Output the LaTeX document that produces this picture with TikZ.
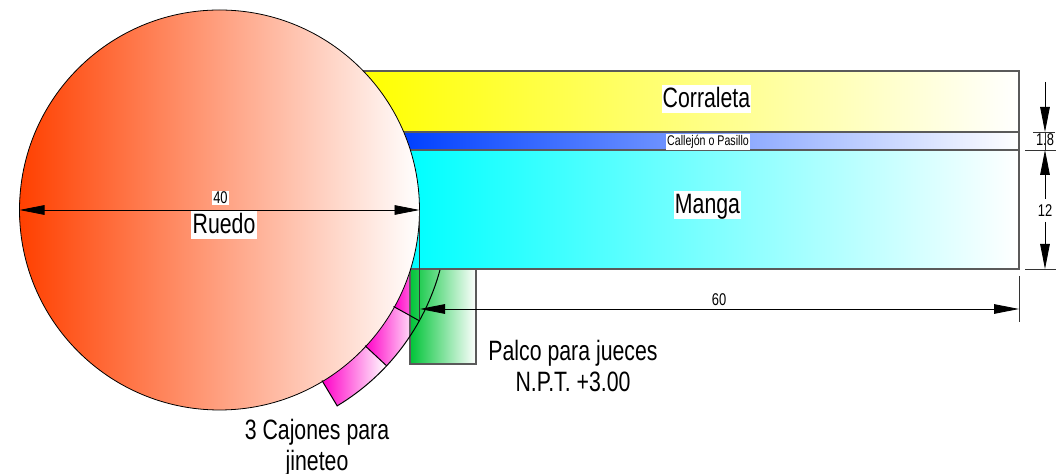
\documentclass[tikz,border=0pt]{standalone}
\usepackage{fontspec}
\setmainfont[FakeStretch=0.76]{Liberation Sans}
\usetikzlibrary{arrows.meta}
\usetikzlibrary{calc}
\definecolor{ruedocol}{RGB}{255,64,0}
\definecolor{corralcol}{RGB}{255,255,0}
\definecolor{pasillocol}{RGB}{0,64,255}
\definecolor{mangacol}{RGB}{0,255,255}
\definecolor{palcocol}{RGB}{0,196,56}
\definecolor{cajoncol}{RGB}{255,0,200}
\definecolor{bordecol}{RGB}{90,90,90}
\tikzset{
  borde/.style={draw=bordecol,line width=0.55pt},
  cota/.style={line width=0.4pt,draw=black!80},
  punta/.style={-{Triangle[length=12.5pt,width=4.8pt]},line width=0.4pt,draw=black},
  etiq/.style={fill=white,anchor=base,inner sep=0.6pt,text height=11pt,text depth=2pt,font=\fontsize{14}{15.5}\selectfont},
  etiqcota/.style={fill=white,anchor=base,inner sep=0.6pt,font=\fontsize{8.5}{10}\selectfont},
  rotulo/.style={align=center,font=\fontsize{14}{15.5}\selectfont}
}
\begin{document}
\begin{tikzpicture}[x=0.5pt,y=-0.5pt]
\useasboundingbox (0,0) rectangle (1056,474);
\coordinate (centro) at (219.5,210);
% cajones
\shade[left color=cajoncol,right color=white] ($(centro)+(59:199)$) arc[start angle=59,end angle=43,radius=199]
  -- ($(centro)+(43:228)$) arc[start angle=43,end angle=59,radius=228] -- cycle;
\shade[left color=cajoncol,right color=white] ($(centro)+(43:199)$) arc[start angle=43,end angle=29,radius=199]
  -- ($(centro)+(29:228)$) arc[start angle=29,end angle=43,radius=228] -- cycle;
\shade[left color=cajoncol,right color=white] ($(centro)+(29:199)$) arc[start angle=29,end angle=15,radius=199]
  -- ($(centro)+(15:228)$) arc[start angle=15,end angle=29,radius=228] -- cycle;
% corrales y manga
\shade[left color=corralcol,right color=white] (363,71) rectangle (1019,132);
\shade[left color=pasillocol,right color=white] (403,132) rectangle (1019,150);
\shade[left color=mangacol,right color=white] (410,150) rectangle (1019,269);
\draw[borde] (363,71) rectangle (1019,132);
\draw[borde] (403,132) rectangle (1019,150);
\draw[borde] (410,150) rectangle (1019,269);
% palco
\shade[left color=palcocol,right color=white] (410,269) rectangle (476,364);
\draw[borde] (410,269) rectangle (476,364);
% ruedo
\shade[left color=ruedocol,right color=white] (centro) circle[radius=200];
\draw[line width=0.4pt] (centro) circle[radius=200];
% lineas de cajones
\draw[line width=0.5pt] ($(centro)+(15.2:228.5)$) arc[start angle=15.2,end angle=59,radius=228.5]
  -- ($(centro)+(59:199)$);
\draw[line width=0.5pt] ($(centro)+(43:199)$) -- ($(centro)+(43:228.5)$);
\draw[line width=0.5pt] ($(centro)+(29:199)$) -- ($(centro)+(29:228.5)$);
% cotas
\draw[cota] (419.5,210) -- (419.5,319);
\draw[punta] (centro) -- (19.5,210);
\draw[punta] (centro) -- (419.5,210);
\draw[punta] (719,309) -- (420,309);
\draw[punta] (719,309) -- (1019,309);
\draw[cota] (1019,276) -- (1019,322);
\draw[cota] (1033,132) -- (1055,132);
\draw[cota] (1025,150) -- (1056,150);
\draw[cota] (1025,269) -- (1056,269);
\draw[cota] (1045,132) -- (1045,150);
\draw[punta] (1045,82) -- (1045,132);
\draw[punta] (1045,199) -- (1045,150);
\draw[punta] (1045,222) -- (1045,269);
% textos
\node[etiq] (corraleta) at (706.5,108) {Corraleta};
\node[etiq] (manga) at (707.5,214) {Manga};
\node[etiq] (ruedo) at (224,234) {Ruedo};
\node[etiqcota,font=\fontsize{7}{8}\selectfont] (pasillo) at (708,146) {Callejón o Pasillo};
\node[etiqcota] (dim40) at (220.5,204) {40};
\node[etiqcota] (dim60) at (719,306) {60};
\node[etiqcota,fill=none] (dim18) at (1045,146) {1.8};
\node[etiqcota] (dim12) at (1045,217) {12};
\node[rotulo] (palco) at (573,366) {Palco para jueces\\N.P.T. +3.00};
\node[rotulo] (cajones) at (317,447.5) {3 Cajones para\\jineteo};
\end{tikzpicture}
\end{document}
